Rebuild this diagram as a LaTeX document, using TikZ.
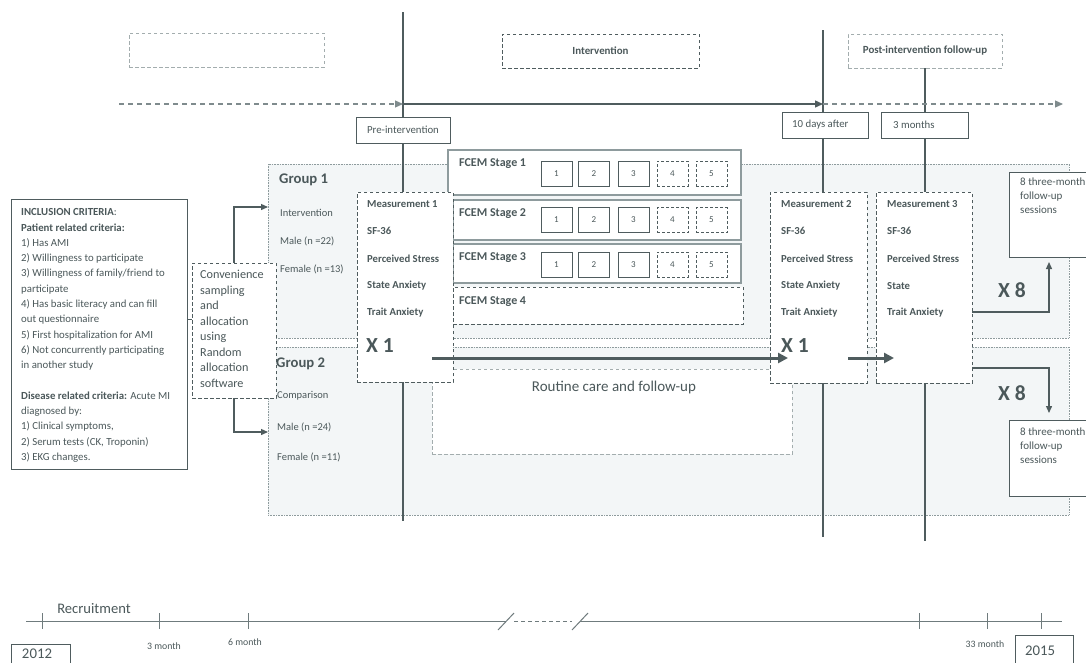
\documentclass[tikz,border=0pt]{standalone}
\usepackage{fontspec}
\setmainfont{Carlito}
\usetikzlibrary{fit,arrows.meta,calc}
\definecolor{ink}{HTML}{4B585A}
\definecolor{lineC}{HTML}{4F5C5E}
\definecolor{lightC}{HTML}{A3ADAE}
\definecolor{panelF}{HTML}{F3F6F7}
\definecolor{stageC}{HTML}{8E9B9D}
\definecolor{tlC}{HTML}{6F7B7D}
\definecolor{arrC}{HTML}{7F8B8D}
\tikzset{
  panel/.style={draw=stageC, line width=0.7pt, dash pattern=on 0.8pt off 0.8pt, fill=panelF},
  dkdash/.style={draw=lineC, line width=0.9pt, dash pattern=on 3.5pt off 2.5pt, fill=white},
  ltdash/.style={draw=lightC, line width=0.9pt, dash pattern=on 3.5pt off 2.5pt},
  solidbox/.style={draw=lineC, line width=0.9pt, fill=white},
  stagebox/.style={draw=stageC, line width=1.1pt, fill=white},
  numbox/.style={draw=lineC, line width=0.9pt, fill=white, minimum width=31pt, minimum height=25pt, font=\fontsize{9}{10}\selectfont},
  numdash/.style={numbox, dash pattern=on 3pt off 2pt},
  vline/.style={draw=lineC, line width=1.7pt},
  tldash/.style={draw=arrC, line width=1.1pt, dash pattern=on 5pt off 4pt, -{Triangle[length=8pt,width=7pt]}},
  tlsolid/.style={draw=lineC, line width=1.4pt, -{Triangle[length=8pt,width=7pt]}},
  bigarrow/.style={draw=lineC, line width=3pt, -{Triangle[length=10pt,width=10pt]}},
  conn/.style={draw=lineC, line width=1.3pt, -{Triangle[length=7pt,width=6pt]}},
  tline/.style={draw=tlC, line width=1pt},
  mtxt/.style={anchor=west, font=\fontsize{10.7}{12}\selectfont\bfseries},
  gtxt/.style={anchor=west, font=\fontsize{10.5}{12}\selectfont},
  lbl/.style={font=\fontsize{10.8}{12}\selectfont},
  xtxt/.style={anchor=west, font=\fontsize{21.5}{24}\selectfont\bfseries},
  stxt/.style={anchor=west, font=\fontsize{12}{14}\selectfont\bfseries},
  phasetxt/.style={font=\fontsize{10.9}{12}\selectfont\bfseries},
  grouptxt/.style={anchor=west, font=\fontsize{14.7}{17}\selectfont\bfseries},
  smalltxt/.style={font=\fontsize{9.8}{11}\selectfont},
  yeartxt/.style={font=\fontsize{14.8}{17}\selectfont},
}
\begin{document}
\begin{tikzpicture}[x=1pt,y=-1pt, every node/.style={inner sep=0pt, text=ink}]
\useasboundingbox (0,0) rectangle (1086,662);

% group panels
\node[panel, fit={(268,164)(1069,338)}] (g1) {};
\node[panel, fit={(268,347)(1069,515)}] (g2) {};

% routine care box
\node[ltdash, fill=white, fit={(432,369)(792,454)}] (rc) {};
\node[font=\fontsize{15}{17}\selectfont] (rctxt) at (614,387) {Routine care and follow-up};

% top phase boxes
\node[ltdash, fit={(129,33)(324,67)}] (phase0) {};
\node[dkdash, fit={(502,34)(699,68)}] (phase1) {};
\node[phasetxt] at (phase1.center) {Intervention};
\node[ltdash, fill=white, fit={(848,34)(1002,68)}] (phase2) {};
\node[phasetxt] at (phase2.center) {Post-intervention follow-up};

% vertical time lines
\coordinate (v1t) at (403,12);  \coordinate (v1b) at (403,521);
\coordinate (v2t) at (823,30);  \coordinate (v2b) at (823,537);
\coordinate (v3b) at (925,541);
\draw[vline] (v1t) -- (v1b);
\draw[vline] (v2t) -- (v2b);
\draw[vline] (phase2.south) -- (v3b);

% top timeline arrows
\coordinate (t0) at (119,104); \coordinate (t1) at (403,104);
\coordinate (t2) at (823,104); \coordinate (t3) at (1063,104);
\draw[tldash] (t0) -- (t1);
\draw[tlsolid] (t1) -- (t2);
\draw[tldash] (t2) -- (t3);

% time labels
\node[solidbox, lbl, minimum width=94pt, minimum height=26pt] (lpre) at (403,130) {Pre-intervention};
\node[solidbox, fit={(782,112)(868,138)}] (l10) {};
\node[lbl, anchor=west] at (792,125) {10 days after};
\node[solidbox, fit={(881,112)(968,138)}] (l3m) {};
\node[lbl, anchor=west] at (893,125) {3 months};

% FCEM stages
\node[stagebox, fit={(448,150)(741,195)}] (s1) {};
\node[stagebox, fit={(453,200)(741,240)}] (s2) {};
\node[stagebox, fit={(453,244)(741,283)}] (s3) {};
\node[dkdash, fit={(453,287)(743,324)}] (s4) {};
\node[stxt] at (459,164) {FCEM Stage 1};
\node[stxt] at (459,214) {FCEM Stage 2};
\node[stxt] at (459,258) {FCEM Stage 3};
\node[stxt] at (459,302) {FCEM Stage 4};
\foreach \s/\y in {1/173.5,2/220,3/264.5}{
  \node[numbox] (n\s a) at (556.5,\y) {1};
  \node[numbox] (n\s b) at (594,\y) {2};
  \node[numbox] (n\s c) at (633.5,\y) {3};
  \node[numdash] (n\s d) at (672.5,\y) {4};
  \node[numdash] (n\s e) at (711.5,\y) {5};
}

% measurement boxes
\node[dkdash, fit={(357,192)(453,382)}] (m1) {};
\node[dkdash, fit={(770,192)(867,383)}] (m2) {};
\node[dkdash, fit={(876,192)(972,383)}] (m3) {};
\node[mtxt] at (367,204) {Measurement 1};
\node[mtxt] at (367,231) {SF-36};
\node[mtxt] at (367,259) {Perceived Stress};
\node[mtxt] at (367,286) {State Anxiety};
\node[mtxt] at (367,313) {Trait Anxiety};
\node[xtxt] at (366,346) {X 1};
\node[mtxt] at (781,204) {Measurement 2};
\node[mtxt] at (781,231) {SF-36};
\node[mtxt] at (781,259) {Perceived Stress};
\node[mtxt] at (781,286) {State Anxiety};
\node[mtxt] at (781,313) {Trait Anxiety};
\node[xtxt] at (781,346) {X 1};
\node[mtxt] at (887,204) {Measurement 3};
\node[mtxt] at (887,231) {SF-36};
\node[mtxt] at (887,259) {Perceived Stress};
\node[mtxt] at (887,286) {State};
\node[mtxt] at (887,313) {Trait Anxiety};

% thick arrows
\coordinate (xa) at (432,358); \coordinate (xb) at (788,358);
\coordinate (xc) at (848,358); \coordinate (xd) at (894,358);
\draw[bigarrow] (xa) -- (xb);
\draw[bigarrow] (xc) -- (xd);

% group texts
\node[grouptxt] at (279,180) {Group 1};
\node[gtxt] at (280,213) {Intervention};
\node[gtxt] at (280,241) {Male (n =22)};
\node[gtxt] at (280,269) {Female (n =13)};
\node[grouptxt] at (276,364) {Group 2};
\node[gtxt] at (277,396) {Comparison};
\node[gtxt] at (277,427) {Male (n =24)};
\node[gtxt] at (277,457) {Female (n =11)};

% follow-up boxes
\node[solidbox, fit={(1009,172)(1100,257)}] (f1) {};
\node[solidbox, fit={(1009,420)(1100,496)}] (f2) {};
\node[anchor=north west, align=left, font=\fontsize{11}{14}\selectfont] at (1020,178) {8 three-month\\follow-up\\sessions};
\node[anchor=north west, align=left, font=\fontsize{11}{14}\selectfont] at (1020,428) {8 three-month\\follow-up\\sessions};
\node[font=\fontsize{21.5}{24}\selectfont\bfseries] at (1012,290) {X 8};
\node[font=\fontsize{21.5}{24}\selectfont\bfseries] at (1012,393) {X 8};
\coordinate (r1) at (0,312); \coordinate (r2) at (0,368);
\coordinate (f1in) at (1049,257); \coordinate (f2in) at (1049,420);
\draw[conn, shorten >=5pt] (m3.east |- r1) -| (f1in);
\draw[conn, shorten >=7pt] (m3.east |- r2) -| (f2in);

% inclusion criteria
\node[solidbox, fit={(11,199)(187,469)}] (incl) {};
\node[anchor=north west, align=left, font=\fontsize{10.8}{15.3}\selectfont] (incltxt) at (21,208.5) {%
\textbf{INCLUSION CRITERIA}:\\
\textbf{Patient related criteria:}\\
1) Has AMI\\
2) Willingness to participate\\
3) Willingness of family/friend to\\
participate\\
4) Has basic literacy and can fill\\
out questionnaire\\
5) First hospitalization for AMI\\
6) Not concurrently participating\\
in another study\\[15.3pt]
\textbf{Disease related criteria:} Acute MI\\
diagnosed by:\\
1) Clinical symptoms,\\
2) Serum tests (CK, Troponin)\\
3) EKG changes.};

% convenience sampling
\node[dkdash, fit={(192,263)(276,398)}] (conv) {};
\node[anchor=north west, align=left, font=\fontsize{12.2}{15.5}\selectfont] at (200,270) {Convenience\\sampling\\and\\allocation\\using\\Random\\allocation\\software};
\coordinate (stub) at (0,319);
\draw[draw=lineC, line width=0.8pt] (incl.east |- stub) -- (conv.west |- stub);
\coordinate (g1in) at (268,207); \coordinate (g2in) at (268,432);
\draw[conn] (conv.north) |- (g1in);
\draw[conn] (conv.south) |- (g2in);

% bottom timeline
\coordinate (b0) at (26,621); \coordinate (b1) at (506,621);
\coordinate (b2) at (514,621); \coordinate (b3) at (572,621);
\coordinate (b4) at (580,621); \coordinate (b5) at (1062,621);
\draw[tline] (b0) -- (b1);
\draw[tline, dash pattern=on 4pt off 3pt] (b2) -- (b3);
\draw[tline] (b4) -- (b5);
\draw[tline] (498,630) -- (514,613);
\draw[tline] (572,630) -- (588,613);
\foreach \x in {42,159,248,919,987,1041}{ \draw[tline] (\x,613) -- (\x,629); }
\node[font=\fontsize{14.6}{17}\selectfont] (recr) at (94,609) {Recruitment};
\node[smalltxt] (m3lab) at (164,646) {3 month};
\node[smalltxt] (m6lab) at (245,642) {6 month};
\node[smalltxt] (m33lab) at (985,644) {33 month};
\node[solidbox, fit={(11,644)(70,672)}] (y2012) {};
\node[yeartxt] at (37,654) {2012};
\node[solidbox, fit={(1015,635)(1073,672)}] (y2015) {};
\node[yeartxt] at (1040,651) {2015};
\end{tikzpicture}
\end{document}
